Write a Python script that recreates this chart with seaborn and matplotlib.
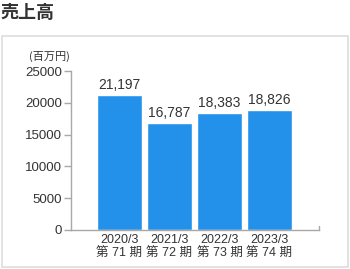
import matplotlib
matplotlib.use("Agg")
import matplotlib.pyplot as plt
import seaborn as sns
import pandas as pd
from matplotlib.patches import Rectangle

years = ["2020/3", "2021/3", "2022/3", "2023/3"]
periods = ["第 71 期", "第 72 期", "第 73 期", "第 74 期"]
sales = [21197, 16787, 18383, 18826]
yticks = [0, 5000, 10000, 15000, 20000, 25000]

sns.set_theme(style="white")
plt.rcParams['font.family'] = ['Liberation Sans', 'Noto Sans CJK JP', 'DejaVu Sans']

labels = [f"{y}\n{p}" for y, p in zip(years, periods)]
df = pd.DataFrame({"label": labels, "sales": sales})

fig = plt.figure(figsize=(3.5, 2.69), dpi=100)
W, H = 350, 269
ax = fig.add_axes([71 / W, 39 / H, (319 - 71) / W, 159 / H])

sns.barplot(data=df, x="label", y="sales", color="#2391ea", saturation=1,
            width=0.9, ax=ax)

ax.set_xlim(-0.97, 3.99)
ax.set_ylim(0, 25000)
ax.set_yticks(yticks)
ax.set_yticklabels([str(v) for v in yticks])
ax.set_xlabel("")
ax.set_ylabel("")

for s in ["top", "right"]:
    ax.spines[s].set_visible(False)
for s in ["left", "bottom"]:
    ax.spines[s].set_color("#a8a8a8")
    ax.spines[s].set_linewidth(1.0)

ax.tick_params(axis="y", length=5, width=1, color="#a8a8a8", labelsize=9.5,
               labelcolor="#333333", pad=1.5, direction="out", left=True)
ax.tick_params(axis="x", length=0, labelsize=9, labelcolor="#333333", pad=3)
for t in ax.get_xticklabels():
    t.set_linespacing(1.2)

# small closing tick at right end of the baseline
ax.axvline(3.99, ymin=0, ymax=4 / 159, color="#a8a8a8", lw=1, clip_on=False)

ax.bar_label(ax.containers[0], labels=[f"{v:,}" for v in sales],
             padding=2, fontsize=10, color="#333333")

fig.text(70 / W, 1 - 56 / H, "(百万円)", ha="right", va="center",
         fontsize=8, color="#333333",
         family=['Noto Sans CJK JP', 'DejaVu Sans'])

fig.text(0 / W, 1 - 12 / H, "売上高", ha="left", va="center",
         fontsize=13, fontweight="bold", color="#333333",
         family=['Noto Sans CJK JP', 'DejaVu Sans'])

fig.patches.append(Rectangle((1.5 / W, 2.5 / H), (348 - 1.5) / W, (233 - 2.5) / H,
                             transform=fig.transFigure, fill=False,
                             edgecolor="#dddddd", lw=1.2))

fig.savefig("out.png", dpi=100)
